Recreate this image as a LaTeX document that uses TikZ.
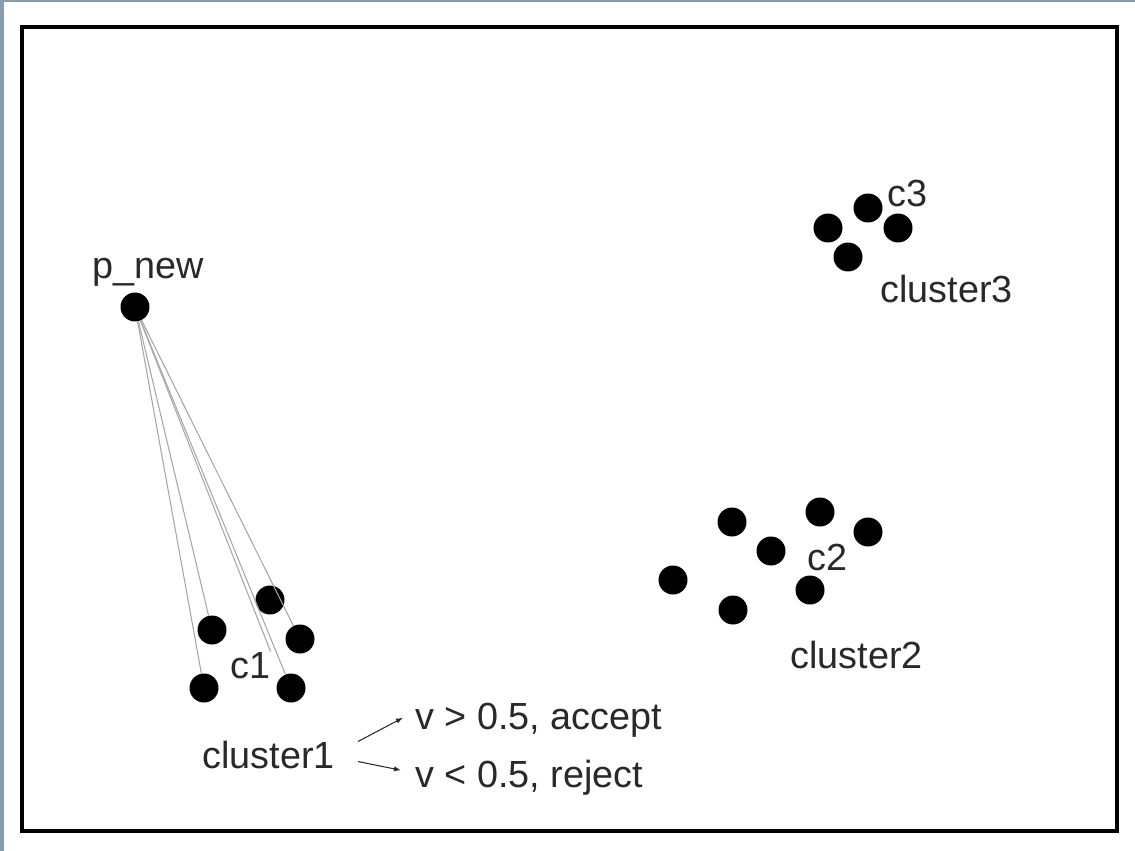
\documentclass[tikz,border=0pt]{standalone}
\usepackage{fontspec}
\setmainfont{Liberation Sans}
\usetikzlibrary{arrows.meta}
\definecolor{edgegray}{RGB}{136,156,176}
\definecolor{inkgray}{RGB}{40,40,45}

\begin{document}
\begin{tikzpicture}[x=0.02cm,y=-0.02cm,
    dot/.style={circle,fill=black,inner sep=0pt,minimum size=0.58cm},
    lbl/.style={font=\fontsize{21.5}{24}\selectfont,text=inkgray,inner sep=0pt,anchor=base west},
    link/.style={gray!70,line width=0.6pt},
    arr/.style={-{Latex[length=4pt,width=3pt]},line width=0.6pt,inkgray}]
    \useasboundingbox (0,0) rectangle (1135,851);
    \fill[edgegray] (0,0) rectangle (4,851);
    \fill[edgegray] (0,0) rectangle (1135,2);
    \draw[line width=2.2pt] (22,27) rectangle (1117,831);

    % new point
    \node[dot] (pnew) at (135,307) {};
    \node[lbl] (pnewlbl) at (92,278) {p\_new};

    % cluster 1
    \node[dot] (a1) at (270,600) {};
    \node[dot] (a2) at (212,630) {};
    \node[dot] (a3) at (300,639) {};
    \node[dot] (a4) at (204,688) {};
    \node[dot] (a5) at (291,688) {};
    \node[lbl] (c1) at (230,678) {c1};
    \node[lbl] (cl1) at (202,768) {cluster1};

    \draw[link] (pnew) -- (a4);
    \draw[link] (pnew) -- (a2);
    \draw[link] (pnew) -- (c1.north east);
    \draw[link] (pnew) -- (a5);
    \draw[link] (pnew) -- (a3);

    \node[lbl] (acc) at (415,729) {v > 0.5, accept};
    \node[lbl] (rej) at (415,787) {v < 0.5, reject};
    \draw[arr] ([shift={(23,-13)}]cl1.east) -- ([shift={(-12,-2)}]acc.west);
    \draw[arr] ([shift={(23,7)}]cl1.east) -- ([shift={(-14,-7)}]rej.west);

    % cluster 2
    \node[dot] (b1) at (732,522) {};
    \node[dot] (b2) at (820,512) {};
    \node[dot] (b3) at (868,532) {};
    \node[dot] (b4) at (771,551) {};
    \node[dot] (b5) at (673,580) {};
    \node[dot] (b6) at (733,610) {};
    \node[dot] (b7) at (810,590) {};
    \node[lbl] (c2) at (807,570) {c2};
    \node[lbl] (cl2) at (790,668) {cluster2};

    % cluster 3
    \node[dot] (d1) at (868,208) {};
    \node[dot] (d2) at (828,228) {};
    \node[dot] (d3) at (898,228) {};
    \node[dot] (d4) at (848,257) {};
    \node[lbl] (c3) at (887,207) {c3};
    \node[lbl] (cl3) at (880,302) {cluster3};
\end{tikzpicture}
\end{document}
